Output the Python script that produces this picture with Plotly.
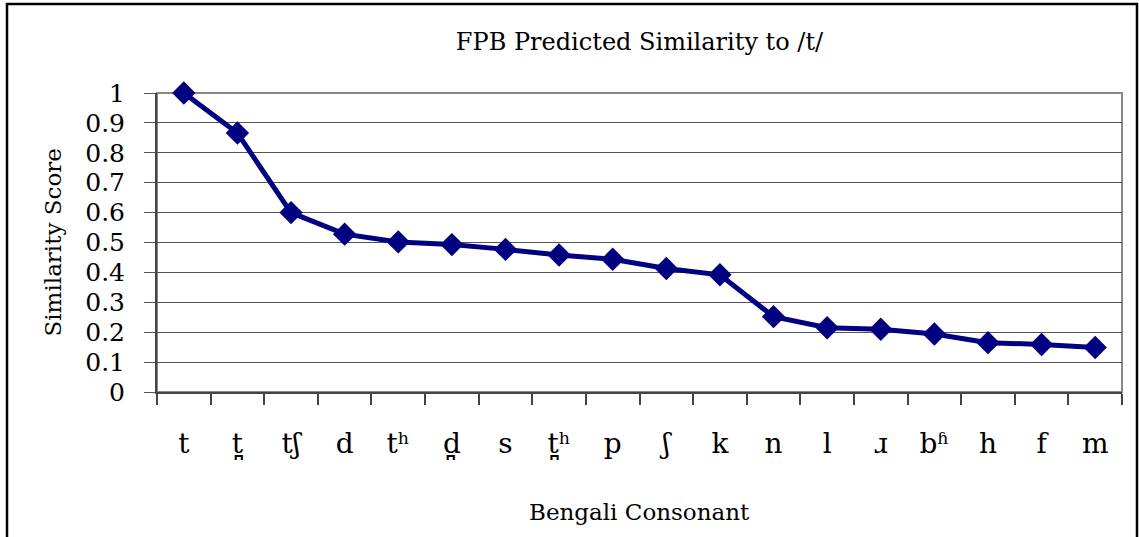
import plotly.graph_objects as go

consonants = ["t", "t\u032a", "t\u0283", "d", "t\u02b0", "d\u032a", "s", "t\u032a\u02b0", "p",
              "\u0283", "k", "n", "l", "\u0279", "b\u02b1", "h", "f", "m"]
similarity = [1.0, 0.866, 0.60, 0.528, 0.502, 0.493, 0.477, 0.458, 0.444,
              0.413, 0.392, 0.252, 0.215, 0.21, 0.194, 0.165, 0.159, 0.149]
y_ticks = [0, 0.1, 0.2, 0.3, 0.4, 0.5, 0.6, 0.7, 0.8, 0.9, 1]
y_tick_text = ["0", "0.1", "0.2", "0.3", "0.4", "0.5", "0.6", "0.7", "0.8", "0.9", "1"]

title_text = "FPB Predicted Similarity to /t/"
x_title = "Bengali Consonant"
y_title = "Similarity Score"

FONT = "DejaVu Serif"
W, H = 1139, 537
L, R, T, B = 157, 17, 93, 145
pw = W - L - R
ph = H - T - B

def px_x(px):
    return (px - L) / pw

def px_y(py):
    return (H - B - py) / ph

fig = go.Figure()
fig.add_trace(go.Scatter(
    x=consonants, y=similarity, mode="lines+markers",
    line=dict(color="#000080", width=5),
    marker=dict(symbol="diamond", size=18, color="#000080"),
    showlegend=False, cliponaxis=False,
))

fig.update_layout(
    width=W, height=H,
    margin=dict(l=L, r=R, t=T, b=B),
    paper_bgcolor="white", plot_bgcolor="white",
    font=dict(family=FONT, color="black", size=22),
    title=dict(text=title_text, x=0.5, xanchor="center", xref="paper",
               y=1 - 42 / H, yanchor="middle", yref="container",
               font=dict(family=FONT, size=24, color="black")),
    xaxis=dict(
        type="category", range=[-0.5, len(consonants) - 0.5],
        showgrid=False, showline=True, linecolor="#444", linewidth=2,
        ticks="outside", tickson="boundaries", ticklen=11, tickcolor="#444", tickwidth=2,
        tickfont=dict(family=FONT, size=28, color="black"),
        ticklabelstandoff=25, zeroline=False,
    ),
    yaxis=dict(
        range=[0, 1], tickvals=y_ticks, ticktext=y_tick_text,
        showgrid=True, gridcolor="#555", gridwidth=1,
        showline=True, linecolor="#444", linewidth=2,
        ticks="outside", ticklen=11, tickcolor="#555", tickwidth=1,
        tickfont=dict(family=FONT, size=25, color="black"),
        ticklabelstandoff=14, zeroline=False,
    ),
    shapes=[
        dict(type="rect", xref="paper", yref="paper", x0=0, x1=1, y0=0, y1=1,
             line=dict(color="#888", width=2), layer="between"),
        dict(type="rect", xref="paper", yref="paper",
             x0=px_x(7), x1=px_x(1137), y0=px_y(560), y1=px_y(4),
             line=dict(color="black", width=2.5), layer="above"),
    ],
    annotations=[
        dict(text=x_title, xref="paper", yref="paper", x=0.5, y=px_y(512),
             xanchor="center", yanchor="middle", showarrow=False,
             font=dict(family=FONT, size=23, color="black")),
        dict(text=y_title, xref="paper", yref="paper", x=px_x(52), y=0.5,
             xanchor="center", yanchor="middle", showarrow=False, textangle=-90,
             font=dict(family=FONT, size=23, color="black")),
    ],
)

fig.write_html("out.html", config={"displayModeBar": False},
               post_script="document.body.style.margin='0';")
